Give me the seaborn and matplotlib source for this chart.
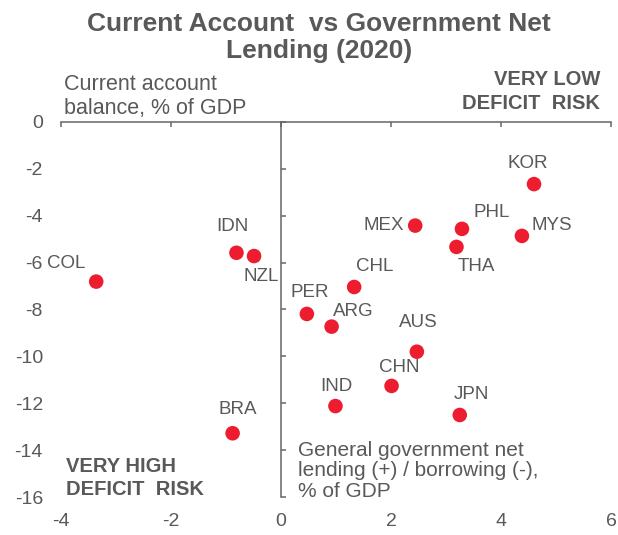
import seaborn as sns
import matplotlib
matplotlib.use("Agg")
import matplotlib.pyplot as plt
import pandas as pd

# data (2020)
countries = ["COL", "IDN", "NZL", "KOR", "MEX", "PHL", "MYS", "THA", "CHL",
             "PER", "ARG", "AUS", "CHN", "IND", "JPN", "BRA"]
gov_net_lending = [-3.36, -0.81, -0.49, 4.60, 2.44, 3.29, 4.38, 3.19, 1.33,
                   0.47, 0.92, 2.47, 2.01, 0.99, 3.25, -0.88]
current_account = [-6.81, -5.58, -5.72, -2.65, -4.42, -4.56, -4.86, -5.33, -7.04,
                   -8.19, -8.73, -9.80, -11.26, -12.12, -12.50, -13.28]

xticks = [-4, -2, 0, 2, 4, 6]
yticks = [0, -2, -4, -6, -8, -10, -12, -14, -16]

# label placement (pixel offsets from the dot, horizontal alignment)
label_pos = {
    "COL": (-11, 18, "right"), "IDN": (-4, 26, "center"), "NZL": (-11, -20, "left"),
    "KOR": (-6, 21, "center"), "MEX": (-11, 0, "right"), "PHL": (12, 16, "left"),
    "MYS": (10, 10, "left"), "THA": (1, -20, "left"), "CHL": (2, 20, "left"),
    "PER": (-16, 21, "left"), "ARG": (1, 15, "left"), "AUS": (-18, 29, "left"),
    "CHN": (8, 18, "center"), "IND": (1, 20, "center"), "JPN": (12, 20, "center"),
    "BRA": (5, 24, "center"),
}

df = pd.DataFrame({"country": countries, "gov": gov_net_lending, "ca": current_account})

sns.set_style("white")
plt.rcParams["font.family"] = ["Liberation Sans", "DejaVu Sans"]
plt.rcParams["axes.unicode_minus"] = False
grey = "#595959"
red = "#ED1C2E"

fig = plt.figure(figsize=(6.18, 5.35), dpi=100)
ax = fig.add_axes([0.0987, 0.071, 0.89, 0.701])

sns.scatterplot(data=df, x="gov", y="ca", ax=ax, color=red, s=110,
                edgecolor="none", legend=False, zorder=3)

for c, x, y in zip(countries, gov_net_lending, current_account):
    dx, dy, ha = label_pos[c]
    ax.annotate(c, (x, y), xytext=(dx, dy), textcoords="offset pixels",
                ha=ha, va="center", fontsize=13.5, color=grey)

ax.set_xlim(-4, 6)
ax.set_ylim(-16, 0)
ax.set_xticks(xticks)
ax.set_yticks(yticks)
ax.set_xlabel("")
ax.set_ylabel("")

# spines: horizontal at y=0 (top), vertical at x=0
for s in ["right", "bottom"]:
    ax.spines[s].set_visible(False)
ax.spines["top"].set_color("#666666")
ax.spines["top"].set_linewidth(1.1)
ax.spines["left"].set_position(("data", 0))
ax.spines["left"].set_color("#666666")
ax.spines["left"].set_linewidth(1.1)

ax.tick_params(axis="x", top=True, bottom=False, labeltop=False, labelbottom=True,
               direction="in", length=3.5, width=1.1, color="#666666",
               labelsize=14, labelcolor=grey, pad=11.5)
ax.tick_params(axis="y", left=True, labelleft=False, direction="in",
               length=3.5, width=1.1, color="#666666")

# y tick labels stay at the left edge
sec = ax.secondary_yaxis("left")
sec.spines["left"].set_visible(False)
sec.set_yticks(yticks)
sec.tick_params(axis="y", length=0, labelsize=14, labelcolor=grey, pad=13)

fig.text(0.516, 0.978, "Current Account  vs Government Net\nLending (2020)",
         ha="center", va="top", fontsize=19, fontweight="bold", color=grey,
         linespacing=1.17)

ax.text(0.006, 1.007, "Current account\nbalance, % of GDP", transform=ax.transAxes,
        ha="left", va="bottom", fontsize=15.5, color=grey, linespacing=1.2)
ax.text(0.98, 1.024, "VERY LOW\nDEFICIT  RISK", transform=ax.transAxes,
        ha="right", va="bottom", fontsize=14.5, fontweight="bold", color=grey,
        linespacing=1.3)
ax.text(0.009, -0.005, "VERY HIGH\nDEFICIT  RISK", transform=ax.transAxes,
        ha="left", va="bottom", fontsize=14.5, fontweight="bold", color=grey,
        linespacing=1.25)
ax.text(0.43, -0.011, "General government net\nlending (+) / borrowing (-),\n% of GDP",
        transform=ax.transAxes, ha="left", va="bottom", fontsize=15, color=grey,
        linespacing=1.12)

fig.savefig("out.png", dpi=100)
